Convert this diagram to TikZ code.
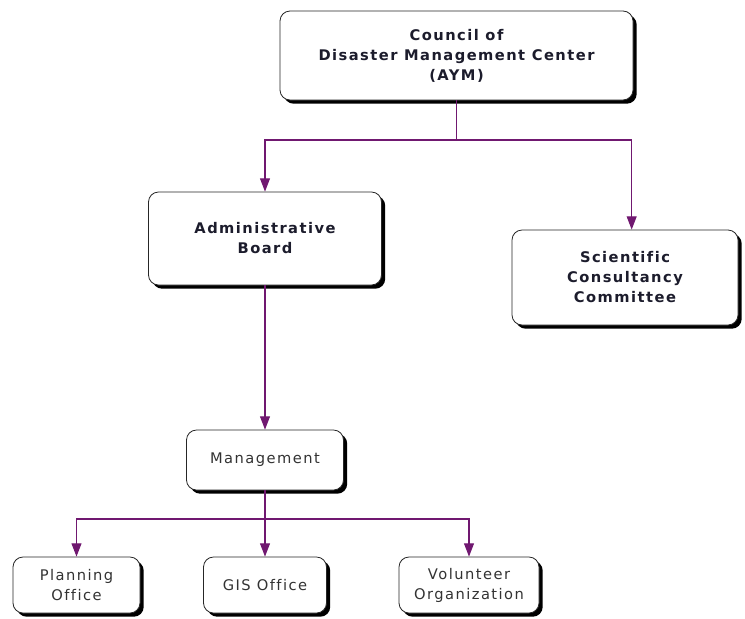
\documentclass[tikz,border=0pt]{standalone}
\usepackage{fontspec}
\setmainfont{DejaVu Sans}
\newfontfamily\headfont[LetterSpace=10,Ligatures=NoCommon]{DejaVu Sans}
\newfontfamily\subfont[LetterSpace=10,Ligatures=NoCommon]{DejaVu Sans}
\usetikzlibrary{arrows.meta,positioning,calc,shadows}
\definecolor{linkpurple}{HTML}{701870}
\definecolor{inkdark}{HTML}{1C1C2C}
\tikzset{unit/.style={draw=black!85,line width=0.6pt,rounded corners=7.5pt,fill=white,align=center,inner sep=2pt,
    drop shadow={shadow xshift=2.8pt,shadow yshift=-2.8pt,fill=black,opacity=1}},
  upper/.style={unit,font=\headfont\bfseries\fontsize{11}{15}\selectfont,text=inkdark},
  lower/.style={unit,font=\subfont\fontsize{11}{15}\selectfont,text=black!80},
  link/.style={linkpurple,line width=0.8pt},
  flow/.style={link,-{Triangle[length=10pt,width=7.5pt]}}}
\begin{document}
\begin{tikzpicture}[x=0.75pt,y=-0.75pt]
\useasboundingbox (0,0) rectangle (745,618);
% top level
\node[upper,minimum width=264.75pt,minimum height=66.75pt] (council) at (456.5,55.5)
  {Council of\\Disaster Management Center\\(AYM)};
\node[upper,minimum width=174.75pt,minimum height=69.75pt] (admin) at (265,238.5)
  {Administrative\\Board};
\node[upper,minimum width=169.5pt,minimum height=71.25pt] (sci) at (625,277.5)
  {Scientific\\Consultancy\\Committee};
% management and offices
\node[lower,minimum width=117.75pt,minimum height=45pt] (mgmt) at (265,460) {Management};
\node[lower,minimum width=95.25pt,minimum height=42pt] (plan) at (76.5,585) {Planning\\Office};
\node[lower,minimum width=92.25pt,minimum height=42pt] (gis) at (265,585) {GIS Office};
\node[lower,minimum width=105pt,minimum height=42pt] (vol) at (469,585) {Volunteer\\Organization};
\coordinate (fork1) at (council.south |- 0,140);
\coordinate (fork2) at (mgmt.south |- 0,519);
% connectors
\draw[link] (council.south) -- (fork1);
\draw[flow] (fork1) -| (admin.north);
\draw[flow] (fork1) -| ([xshift=5pt]sci.north);
\draw[flow] (admin.south) -- (mgmt.north);
\draw[link] (mgmt.south) -- (fork2);
\foreach \n in {plan,gis,vol}
  \draw[flow] (fork2) -| (\n.north);
\end{tikzpicture}
\end{document}
